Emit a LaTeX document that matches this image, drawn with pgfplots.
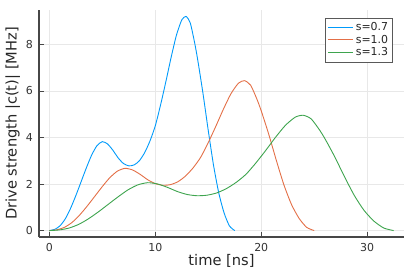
\documentclass[border=0pt]{standalone}
\usepackage{fontspec}
\setmainfont{DejaVu Sans}
\usepackage{pgfplots}
\pgfplotsset{compat=1.18}
\definecolor{jblue}{HTML}{009AFA}
\definecolor{jorange}{HTML}{E36F47}
\definecolor{jgreen}{HTML}{3EA44E}
\begin{document}
\begin{tikzpicture}
\begin{axis}[
  at={(0,0)}, anchor=south west,
  scale only axis, width=365bp, height=227bp,
  xmin=-0.975, xmax=33.475, ymin=-0.276, ymax=9.476,
  axis lines=left, axis line style={-, black!72, line width=1.2bp},
  xtick={0,10,20,30}, ytick={0,2,4,6,8},
  tick align=inside, major tick length=5bp,
  tick style={black!72, line width=0.8bp},
  xtick pos=left, ytick pos=left,
  grid=major, grid style={black!9, line width=0.5bp},
  /pgf/number format/assume math mode=true,
  ticklabel style={font=\fontsize{11}{13}\selectfont, text=black!80},
  xticklabel style={inner sep=0pt, yshift=-6bp},
  yticklabel style={inner sep=0pt, xshift=-6bp},
  xlabel={time [ns]}, ylabel={Drive strength |c(t)| [MHz]},
  label style={font=\fontsize{14.7}{17}\selectfont, text=black!85},
  xlabel style={at={([yshift=-28bp]axis description cs:0.5,0)}, anchor=base},
  ylabel style={at={([xshift=-22.3bp]axis description cs:0,0.5)}, anchor=base},
  legend style={at={(0.970,0.966)}, anchor=north east,
    draw=black!65, line width=0.8bp, fill=white,
    font=\fontsize{11}{12}\selectfont, text=black!85,
    inner sep=2.5bp, row sep=-1bp, cells={anchor=west}},
  legend image code/.code={\draw[#1, line width=1bp] plot coordinates {(0bp,0.2bp) (12.5bp,0.2bp) (25bp,0.2bp)};},
  every axis plot/.append style={line width=0.9bp, smooth, tension=0.4},
]
\addplot[jblue] coordinates {
(0,0) (0.5,0.05) (1.0,0.2) (1.5,0.5) (2.0,0.95) (2.5,1.5) (3.0,2.1) (3.5,2.7)
(4.0,3.25) (4.5,3.65) (5.0,3.82) (5.5,3.72) (6.0,3.45) (6.5,3.12) (7.0,2.88)
(7.5,2.78) (8.0,2.82) (8.5,3.0) (9.0,3.35) (9.5,3.85) (10.0,4.5) (10.5,5.4)
(11.0,6.4) (11.5,7.45) (12.0,8.4) (12.5,9.05) (12.9,9.2) (13.3,8.92) (13.7,8.1)
(14.0,7.35) (14.5,5.9) (15.0,4.3) (15.5,2.8) (16.0,1.6) (16.5,0.75) (17.0,0.2) (17.5,0)
};
\addlegendentry{s=0.7}
\addplot[jorange] coordinates {
(0,0) (0.714,0.035) (1.429,0.14) (2.143,0.35) (2.857,0.665) (3.571,1.05) (4.286,1.47)
(5.0,1.89) (5.714,2.275) (6.429,2.555) (7.143,2.674) (7.857,2.604) (8.571,2.415)
(9.286,2.184) (10.0,2.016) (10.714,1.946) (11.429,1.974) (12.143,2.1) (12.857,2.345)
(13.571,2.695) (14.286,3.15) (15.0,3.78) (15.714,4.48) (16.429,5.215) (17.143,5.88)
(17.857,6.335) (18.429,6.44) (19.0,6.244) (19.571,5.67) (20.0,5.145) (20.714,4.13)
(21.429,3.01) (22.143,1.96) (22.857,1.12) (23.571,0.525) (24.286,0.14) (25.0,0)
};
\addlegendentry{s=1.0}
\addplot[jgreen] coordinates {
(0,0) (0.929,0.027) (1.857,0.108) (2.786,0.269) (3.714,0.512) (4.643,0.808) (5.571,1.131)
(6.5,1.454) (7.429,1.75) (8.357,1.965) (9.286,2.057) (10.214,2.003) (11.143,1.858)
(12.071,1.680) (13.0,1.551) (13.929,1.497) (14.857,1.518) (15.786,1.615) (16.714,1.804)
(17.643,2.073) (18.571,2.423) (19.5,2.908) (20.429,3.446) (21.357,4.012) (22.286,4.523)
(23.214,4.873) (23.957,4.954) (24.7,4.803) (25.443,4.362) (26.0,3.958) (26.929,3.177)
(27.857,2.315) (28.786,1.508) (29.714,0.862) (30.643,0.404) (31.571,0.108) (32.5,0)
};
\addlegendentry{s=1.3}
\end{axis}
\pgfresetboundingbox
\path (-39bp,-40bp) rectangle (376bp,237bp);
\end{tikzpicture}
\end{document}
